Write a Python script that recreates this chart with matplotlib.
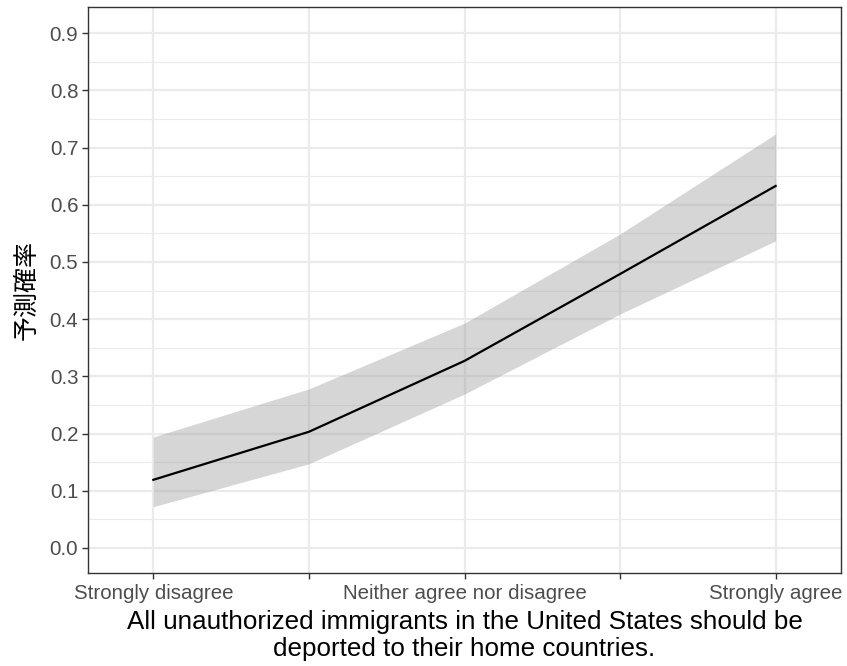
import matplotlib
matplotlib.use("Agg")
import matplotlib.pyplot as plt
import numpy as np

# Predicted probability by agreement level
positions = [1, 2, 3, 4, 5]
tick_labels = ["Strongly disagree", "", "Neither agree nor disagree", "", "Strongly agree"]
pred = [0.119, 0.203, 0.327, 0.479, 0.633]
lower = [0.072, 0.147, 0.269, 0.409, 0.537]
upper = [0.194, 0.278, 0.393, 0.549, 0.724]

plt.rcParams['font.family'] = ['Liberation Sans', 'DejaVu Sans']

fig = plt.figure(figsize=(8.47, 6.66), dpi=100)
ax = fig.add_axes([88 / 847, 1 - 573 / 666, (841 - 88) / 847, (573 - 7) / 666])

ax.fill_between(positions, lower, upper, color='#999999', alpha=0.4, linewidth=0, zorder=2)
ax.plot(positions, pred, color='black', linewidth=1.6, zorder=3)

ax.set_xlim(0.58, 5.42)
ax.set_ylim(-0.044, 0.946)
ax.set_yticks(np.arange(0, 0.91, 0.1))
ax.set_yticklabels([f"{v:.1f}" for v in np.arange(0, 0.91, 0.1)])
ax.set_yticks(np.arange(0.05, 0.91, 0.1), minor=True)
ax.set_xticks(positions)
ax.set_xticklabels(tick_labels)

ax.grid(which='major', color='#EBEBEB', linewidth=1.6, zorder=0)
ax.grid(which='minor', axis='y', color='#EBEBEB', linewidth=0.8, zorder=0)
ax.set_axisbelow(True)

for s in ax.spines.values():
    s.set_color('#333333')
    s.set_linewidth(1.0)

ax.tick_params(axis='both', which='major', colors='#333333', length=4, width=1.0,
               labelcolor='#4D4D4D', labelsize=14.8)
ax.tick_params(axis='y', which='minor', length=0)
ax.tick_params(axis='x', pad=4)
ax.tick_params(axis='y', pad=3)

ax.set_xlabel("All unauthorized immigrants in the United States should be\ndeported to their home countries.",
              fontsize=18.7, color='black', labelpad=5, linespacing=1.15)
ax.set_ylabel("予測確率", fontsize=18, color='black', labelpad=7,
              family=['Noto Sans CJK JP', 'DejaVu Sans'])

fig.savefig("out.png", dpi=100)
